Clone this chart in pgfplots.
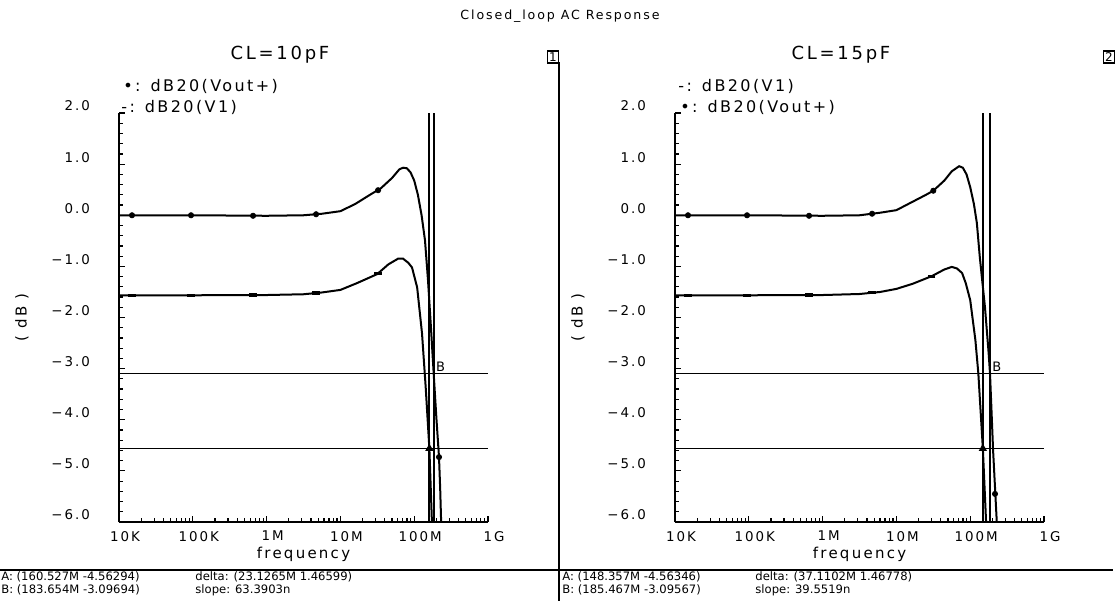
\documentclass[border=0pt]{standalone}
\usepackage{fontspec}
\setmainfont{DejaVu Sans}
\newfontfamily\cad{DejaVu Sans}[LetterSpace=15]
\usepackage{pgfplots}
\pgfplotsset{compat=1.18}
\pgfplotsset{
  cvline/.style={black, line width=1pt, mark=none},
  cvdots/.style={black, only marks, mark=*, mark size=1.3pt},
  cvdash/.style={black, only marks, mark=-, mark size=1.8pt, mark options={line width=1.6pt}},
  cvcur/.style={black, line width=0.9pt, mark=none},
}
\begin{document}
\begin{tikzpicture}
% ---------------- left panel: CL = 10pF ----------------
\begin{axis}[
  scale only axis, width=184.5pt, height=204.5pt,
  at={(59.5pt,-261pt)}, anchor=south west,
  xmode=log, xmin=1e4, xmax=1e9, ymin=-6, ymax=2,
  axis x line*=bottom, axis y line*=left,
  axis line style={line width=0.9pt},
  tick align=inside,
  major tick length=3pt, minor tick length=1.8pt,
  every tick/.style={line width=0.6pt, black},
  xtick={1e4,1e5,1e6,1e7,1e8,1e9},
  xticklabels={10K,100K,1M,10M,100M,1G},
  minor xtick={2e4,3e4,4e4,5e4,6e4,7e4,8e4,9e4,2e5,3e5,4e5,5e5,6e5,7e5,8e5,9e5,2e6,3e6,4e6,5e6,6e6,7e6,8e6,9e6,2e7,3e7,4e7,5e7,6e7,7e7,8e7,9e7,2e8,3e8,4e8,5e8,6e8,7e8,8e8,9e8},
  ytick={-6,-5,-4,-3,-2,-1,0,1,2},
  yticklabels={−6.0,−5.0,−4.0,−3.0,−2.0,−1.0,0.0,1.0,2.0},
  minor y tick num=4,
  tick label style={font=\cad\fontsize{6.7}{8}\selectfont},
  yticklabel style={xshift=-11pt, yshift=3.5pt},
  xticklabel style={xshift=3pt, yshift=-1pt},
  xlabel={frequency}, ylabel={( dB )},
  label style={font=\cad\fontsize{7.5}{9}\selectfont},
  xlabel style={at={(axis description cs:0.5,-0.078)}, anchor=center},
  ylabel style={at={(axis description cs:-0.263,0.5)}, anchor=center},
]
% dB20(Vout+)
\addplot[cvline] coordinates {
(1e4,0.0) (1e5,0.0) (1e6,-0.01) (3.162e6,0.0) (5.623e6,0.03) (1e7,0.08)
(1.585e7,0.22) (2.512e7,0.40) (3.548e7,0.53) (5.012e7,0.73) (6.310e7,0.90)
(7.079e7,0.93) (7.943e7,0.92) (8.913e7,0.84) (1e8,0.68) (1.122e8,0.40)
(1.259e8,0.0) (1.400e8,-0.49) (1.538e8,-1.27) (1.679e8,-2.15) (1.83654e8,-3.097)
(1.995e8,-3.95) (2.168e8,-4.73) (2.249e8,-5.35) (2.317e8,-6.0)};
\addplot[cvdots] coordinates {(1.5e4,0.0) (9.46e4,0.0) (6.55e5,-0.01) (4.68e6,0.02) (3.24e7,0.49) (2.168e8,-4.73)};
% dB20(V1)
\addplot[cvline] coordinates {
(1e4,-1.565) (1e5,-1.565) (1e6,-1.56) (3.162e6,-1.545) (5.623e6,-1.51) (1e7,-1.46)
(1.66e7,-1.33) (3.162e7,-1.15) (4.467e7,-0.96) (6.026e7,-0.85) (7.079e7,-0.85)
(8.318e7,-0.93) (9.333e7,-1.02) (1.096e8,-1.41) (1.276e8,-2.31) (1.429e8,-3.35)
(1.60527e8,-4.563) (1.738e8,-6.0)};
\addplot[cvdash] coordinates {(1.5e4,-1.565) (9.46e4,-1.565) (6.55e5,-1.56) (4.68e6,-1.52) (3.24e7,-1.14)};
% cursors A and B
\addplot[cvcur] coordinates {(1e4,-4.56294) (1e9,-4.56294)};
\addplot[cvcur] coordinates {(1e4,-3.09694) (1e9,-3.09694)};
\addplot[cvcur] coordinates {(1.60527e8,-6) (1.60527e8,2)};
\addplot[cvcur] coordinates {(1.83654e8,-6) (1.83654e8,2)};
\addplot[black, only marks, mark=triangle*, mark size=2pt] coordinates {(1.60527e8,-4.56294)};
\node[anchor=south west, inner sep=1pt, font=\cad\fontsize{6.5}{7}\selectfont] at (axis cs:1.83654e8,-3.09694) {B};
\end{axis}
% ---------------- right panel: CL = 15pF ----------------
\begin{axis}[
  scale only axis, width=184.5pt, height=204.5pt,
  at={(337.5pt,-261pt)}, anchor=south west,
  xmode=log, xmin=1e4, xmax=1e9, ymin=-6, ymax=2,
  axis x line*=bottom, axis y line*=left,
  axis line style={line width=0.9pt},
  tick align=inside,
  major tick length=3pt, minor tick length=1.8pt,
  every tick/.style={line width=0.6pt, black},
  xtick={1e4,1e5,1e6,1e7,1e8,1e9},
  xticklabels={10K,100K,1M,10M,100M,1G},
  minor xtick={2e4,3e4,4e4,5e4,6e4,7e4,8e4,9e4,2e5,3e5,4e5,5e5,6e5,7e5,8e5,9e5,2e6,3e6,4e6,5e6,6e6,7e6,8e6,9e6,2e7,3e7,4e7,5e7,6e7,7e7,8e7,9e7,2e8,3e8,4e8,5e8,6e8,7e8,8e8,9e8},
  ytick={-6,-5,-4,-3,-2,-1,0,1,2},
  yticklabels={−6.0,−5.0,−4.0,−3.0,−2.0,−1.0,0.0,1.0,2.0},
  minor y tick num=4,
  tick label style={font=\cad\fontsize{6.7}{8}\selectfont},
  yticklabel style={xshift=-11pt, yshift=3.5pt},
  xticklabel style={xshift=3pt, yshift=-1pt},
  xlabel={frequency}, ylabel={( dB )},
  label style={font=\cad\fontsize{7.5}{9}\selectfont},
  xlabel style={at={(axis description cs:0.5,-0.078)}, anchor=center},
  ylabel style={at={(axis description cs:-0.263,0.5)}, anchor=center},
]
% dB20(Vout+)
\addplot[cvline] coordinates {
(1e4,0.0) (1e5,0.0) (1e6,-0.01) (3.162e6,0.0) (6.03e6,0.05) (1e7,0.10)
(1.585e7,0.25) (2.512e7,0.40) (3.162e7,0.48) (4.467e7,0.68) (5.623e7,0.86)
(7.079e7,0.96) (7.943e7,0.93) (8.913e7,0.80) (1e8,0.55) (1.122e8,0.22)
(1.230e8,-0.15) (1.349e8,-0.82) (1.585e8,-1.8) (1.778e8,-2.7) (1.85467e8,-3.096)
(2.042e8,-4.6) (2.291e8,-6.0)};
\addplot[cvdots] coordinates {(1.5e4,0.0) (9.46e4,0.0) (6.55e5,-0.01) (4.68e6,0.03) (3.16e7,0.48) (2.168e8,-5.45)};
% dB20(V1)
\addplot[cvline] coordinates {
(1e4,-1.565) (1e5,-1.565) (1e6,-1.56) (3.162e6,-1.54) (6.03e6,-1.50) (1e7,-1.44)
(1.66e7,-1.34) (3.02e7,-1.19) (4.467e7,-1.06) (5.623e7,-1.01) (6.607e7,-1.04)
(7.762e7,-1.13) (8.71e7,-1.33) (1e8,-1.66) (1.175e8,-2.44) (1.288e8,-3.09)
(1.48357e8,-4.563) (1.641e8,-6.0)};
\addplot[cvdash] coordinates {(1.5e4,-1.565) (9.46e4,-1.565) (6.55e5,-1.56) (4.68e6,-1.51) (3.02e7,-1.19)};
% cursors A and B
\addplot[cvcur] coordinates {(1e4,-4.56346) (1e9,-4.56346)};
\addplot[cvcur] coordinates {(1e4,-3.09567) (1e9,-3.09567)};
\addplot[cvcur] coordinates {(1.48357e8,-6) (1.48357e8,2)};
\addplot[cvcur] coordinates {(1.85467e8,-6) (1.85467e8,2)};
\addplot[black, only marks, mark=triangle*, mark size=2pt] coordinates {(1.48357e8,-4.56346)};
\node[anchor=south west, inner sep=1pt, font=\cad\fontsize{6.5}{7}\selectfont] at (axis cs:1.85467e8,-3.09567) {B};
\end{axis}
% ---------------- frame and texts ----------------
\begin{scope}[x=0.5pt, y=-0.5pt]
\path[use as bounding box] (0,0) rectangle (1117,601);
\node[font=\cad\fontsize{6.3}{7}\selectfont] at (560,16) {Closed\_loop AC Response};
\node[font=\cad\fontsize{9}{10}\selectfont] at (280,55) {CL=10pF};
\node[font=\cad\fontsize{9}{10}\selectfont] at (841,55) {CL=15pF};
\node[draw, line width=0.6pt, inner sep=0.8pt, font=\fontsize{6}{6}\selectfont] at (553,57) {1};
\node[draw, line width=0.6pt, inner sep=0.8pt, font=\fontsize{6}{6}\selectfont] at (1109,57) {2};
\node[anchor=west, inner sep=0pt, font=\cad\fontsize{8}{9}\selectfont] at (123,86) {•: dB20(Vout+)};
\node[anchor=west, inner sep=0pt, font=\cad\fontsize{8}{9}\selectfont] at (121,107) {-: dB20(V1)};
\node[anchor=west, inner sep=0pt, font=\cad\fontsize{8}{9}\selectfont] at (678,86) {-: dB20(V1)};
\node[anchor=west, inner sep=0pt, font=\cad\fontsize{8}{9}\selectfont] at (680,107) {•: dB20(Vout+)};
\draw[line width=0.9pt] (0,570) -- (1113,570);
\draw[line width=0.9pt] (559,62) -- (559,601);
\node[anchor=west, inner sep=0pt, font=\fontsize{5.8}{7}\selectfont] at (1,577) {A: (160.527M -4.56294)};
\node[anchor=west, inner sep=0pt, font=\fontsize{5.8}{7}\selectfont] at (195,577) {delta: (23.1265M 1.46599)};
\node[anchor=west, inner sep=0pt, font=\fontsize{5.8}{7}\selectfont] at (1,590) {B: (183.654M -3.09694)};
\node[anchor=west, inner sep=0pt, font=\fontsize{5.8}{7}\selectfont] at (195,590) {slope: 63.3903n};
\node[anchor=west, inner sep=0pt, font=\fontsize{5.8}{7}\selectfont] at (562,577) {A: (148.357M -4.56346)};
\node[anchor=west, inner sep=0pt, font=\fontsize{5.8}{7}\selectfont] at (755,577) {delta: (37.1102M 1.46778)};
\node[anchor=west, inner sep=0pt, font=\fontsize{5.8}{7}\selectfont] at (562,590) {B: (185.467M -3.09567)};
\node[anchor=west, inner sep=0pt, font=\fontsize{5.8}{7}\selectfont] at (755,590) {slope: 39.5519n};
\end{scope}
\end{tikzpicture}
\end{document}
